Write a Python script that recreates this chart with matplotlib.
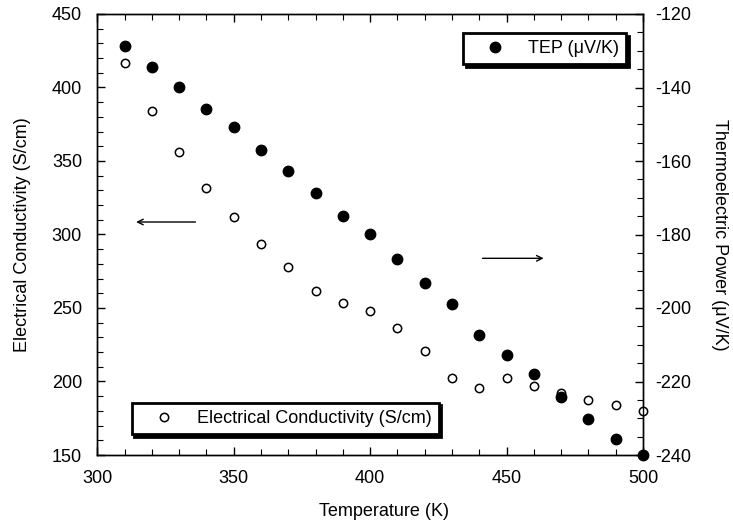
import matplotlib
matplotlib.use("Agg")
import matplotlib.pyplot as plt
from matplotlib.ticker import MultipleLocator

plt.rcParams['font.family'] = ['Liberation Sans', 'DejaVu Sans']
plt.rcParams['axes.unicode_minus'] = False

temperature = [310, 320, 330, 340, 350, 360, 370, 380, 390, 400,
               410, 420, 430, 440, 450, 460, 470, 480, 490, 500]
conductivity = [416.5, 384.2, 355.9, 331.6, 311.9, 293.8, 277.7, 261.6, 253.4, 248.0,
                236.2, 221.0, 202.6, 195.8, 202.6, 196.9, 192.4, 187.6, 184.0, 180.1]
tep = [-128.7, -134.3, -139.8, -145.8, -150.8, -157.0, -162.7, -168.8, -175.0, -179.9,
       -186.8, -193.3, -198.8, -207.3, -212.8, -217.9, -224.3, -230.2, -235.6, -240.0]

x_ticks = [300, 350, 400, 450, 500]
left_ticks = [150, 200, 250, 300, 350, 400, 450]
right_ticks = [-240, -220, -200, -180, -160, -140, -120]

W, H = 733, 529
fig = plt.figure(figsize=(W / 100, H / 100), dpi=100)
ax = fig.add_axes([97.3 / W, 1 - 455 / H, (643 - 97.3) / W, (455 - 14) / H])
ax2 = ax.twinx()

ax.set_xlim(300, 500)
ax.set_ylim(150, 450)
ax2.set_ylim(-240, -120)

l1, = ax.plot(temperature, conductivity, linestyle='none', marker='o', markersize=6,
              markerfacecolor='white', markeredgecolor='black', markeredgewidth=1.1,
              clip_on=False, zorder=3)
l2, = ax2.plot(temperature, tep, linestyle='none', marker='o', markersize=7.5,
               markerfacecolor='black', markeredgecolor='black', clip_on=False, zorder=3)

ax.set_xticks(x_ticks)
ax.set_yticks(left_ticks)
ax2.set_yticks(right_ticks)
ax.xaxis.set_minor_locator(MultipleLocator(10))
ax.yaxis.set_minor_locator(MultipleLocator(10))
ax2.yaxis.set_minor_locator(MultipleLocator(5))

for a in (ax, ax2):
    for s in a.spines.values():
        s.set_linewidth(1.0)
ax.tick_params(axis='x', which='both', direction='in', top=True, bottom=True, labelsize=13, pad=11)
ax.tick_params(axis='y', which='both', direction='in', left=True, right=False, labelsize=13, pad=11)
ax2.tick_params(axis='y', which='both', direction='in', right=True, labelsize=13, pad=8.5)
for a in (ax, ax2):
    a.tick_params(which='major', length=6, width=1)
    a.tick_params(which='minor', length=4, width=0.8)

ax.set_xlabel('Temperature (K)', fontsize=13)
ax.set_ylabel('Electrical Conductivity (S/cm)', fontsize=13)
ax2.set_ylabel('Thermoelectric Power (\u03bcV/K)', fontsize=13, rotation=-90)

for lab in (ax.xaxis.label, ax.yaxis.label, ax2.yaxis.label):
    lab.set_verticalalignment('center')
    lab.set_horizontalalignment('center')
    lab.set_rotation_mode('default')
ax.xaxis.set_label_coords(0.525, (455 - 512) / 441)
ax.yaxis.set_label_coords((22 - 97.3) / 546, 0.5)
ax2.yaxis.set_label_coords((720 - 97.3) / 546, 0.5)

# arrows
ax.annotate('', xy=(313.2, 308.5), xytext=(337.0, 308.5),
            arrowprops=dict(arrowstyle='->', color='black', lw=1.0))
ax.annotate('', xy=(464.6, 283.8), xytext=(440.2, 283.8),
            arrowprops=dict(arrowstyle='->', color='black', lw=1.0))

shadow = {'color': 'black', 'alpha': 1.0}
common = dict(loc='upper left', bbox_transform=fig.transFigure, borderaxespad=0,
              fontsize=13, fancybox=False, shadow=shadow, borderpad=0.4,
              handlelength=2.75, handletextpad=0.45, framealpha=1)
leg1 = fig.legend([l2], ['TEP (\u03bcV/K)'], bbox_to_anchor=(463 / W, 1 - 33 / H), **common)
leg2 = fig.legend([l1], ['Electrical Conductivity (S/cm)'],
                  bbox_to_anchor=(131.7 / W, 1 - 402.7 / H), **common)
for lg in (leg1, leg2):
    lg.get_frame().set_edgecolor('black')
    lg.get_frame().set_linewidth(2.0)

fig.savefig('out.png', dpi=100)
